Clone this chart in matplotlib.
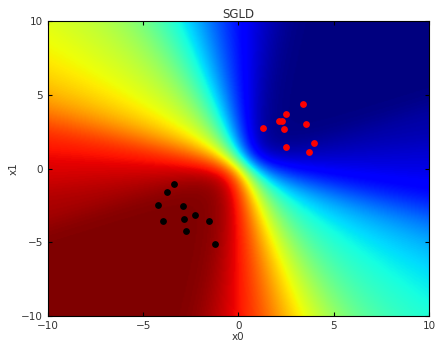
import numpy as np
import matplotlib
matplotlib.use("Agg")
import matplotlib.pyplot as plt

# class 0 points (black)
x0_class0 = [-3.37, -3.77, -4.21, -2.90, -3.98, -2.84, -2.28, -1.55, -2.74, -1.23]
x1_class0 = [-1.05, -1.57, -2.45, -2.52, -3.54, -3.40, -3.15, -3.58, -4.24, -5.14]
# class 1 points (red)
x0_class1 = [3.40, 2.49, 2.14, 2.30, 1.30, 3.53, 2.37, 3.95, 2.51, 3.69]
x1_class1 = [4.37, 3.67, 3.20, 3.24, 2.77, 3.04, 2.66, 1.71, 1.48, 1.14]

# posterior weight samples (angle in degrees, magnitude), bias
w_angle_deg = [168, 174, 178, 182, 186, 188.5, 191, 193.5, 196, 199, 202, 205,
               208, 212, 218, 226, 235, 242, 247, 251, 254, 257, 266, 278, 292]
w_mag = [2.0] * len(w_angle_deg)
w_bias = 0.4

fig = plt.figure(figsize=(4.36, 3.44), dpi=100)
ax = fig.add_axes([0.110, 0.081, 0.874, 0.858])

g = np.linspace(-10, 10, 300)
X0, X1 = np.meshgrid(g, g)
ang = np.deg2rad(np.array(w_angle_deg))
mag = np.array(w_mag)
P = np.zeros_like(X0)
for a, m in zip(ang, mag):
    P += 1.0 / (1.0 + np.exp(-(m * (np.cos(a) * X0 + np.sin(a) * X1) + w_bias)))
P /= len(ang)

ax.imshow(P, extent=(-10, 10, -10, 10), origin="lower", cmap="jet",
          vmin=0, vmax=1, aspect="auto", interpolation="bilinear")
ax.scatter(x0_class0, x1_class0, s=15, c="black", edgecolors="black", zorder=3)
ax.scatter(x0_class1, x1_class1, s=15, c="red", edgecolors="red", zorder=3)

ax.set_xlim(-10, 10)
ax.set_ylim(-10, 10)
ax.set_xticks([-10, -5, 0, 5, 10])
ax.set_yticks([-10, -5, 0, 5, 10])
ax.tick_params(direction="in", top=True, right=True, labelsize=7.5,
               labelcolor="#333333", length=3)
ax.set_xlabel("x0", fontsize=7.5, color="#333333", labelpad=1)
ax.set_ylabel("x1", fontsize=7.5, color="#333333", labelpad=2)
ax.set_title("SGLD", fontsize=8.5, color="#333333", pad=2)

fig.savefig("out.png", dpi=100)
